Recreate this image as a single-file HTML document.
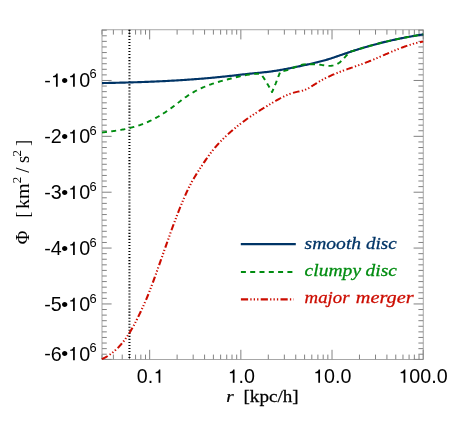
<!DOCTYPE html>
<html><head><meta charset="utf-8"><title>Potential profile</title>
<style>html,body{margin:0;padding:0;background:#fff;}svg{display:block;will-change:transform}</style></head>
<body>
<svg width="463" height="436" viewBox="0 0 463 436">
<rect width="463" height="436" fill="#fff"/>
<path d="M102.00 359.4 v-4.8 M102.00 29.8 v4.8 M113.39 359.4 v-4.8 M113.39 29.8 v4.8 M122.23 359.4 v-4.8 M122.23 29.8 v4.8 M129.45 359.4 v-4.8 M129.45 29.8 v4.8 M135.55 359.4 v-4.8 M135.55 29.8 v4.8 M140.84 359.4 v-4.8 M140.84 29.8 v4.8 M145.50 359.4 v-4.8 M145.50 29.8 v4.8 M149.67 359.4 v-9.6 M149.67 29.8 v9.6 M177.12 359.4 v-4.8 M177.12 29.8 v4.8 M193.18 359.4 v-4.8 M193.18 29.8 v4.8 M204.57 359.4 v-4.8 M204.57 29.8 v4.8 M213.40 359.4 v-4.8 M213.40 29.8 v4.8 M220.62 359.4 v-4.8 M220.62 29.8 v4.8 M226.73 359.4 v-4.8 M226.73 29.8 v4.8 M232.01 359.4 v-4.8 M232.01 29.8 v4.8 M236.68 359.4 v-4.8 M236.68 29.8 v4.8 M240.85 359.4 v-9.6 M240.85 29.8 v9.6 M268.30 359.4 v-4.8 M268.30 29.8 v4.8 M284.35 359.4 v-4.8 M284.35 29.8 v4.8 M295.74 359.4 v-4.8 M295.74 29.8 v4.8 M304.58 359.4 v-4.8 M304.58 29.8 v4.8 M311.80 359.4 v-4.8 M311.80 29.8 v4.8 M317.90 359.4 v-4.8 M317.90 29.8 v4.8 M323.19 359.4 v-4.8 M323.19 29.8 v4.8 M327.85 359.4 v-4.8 M327.85 29.8 v4.8 M332.02 359.4 v-9.6 M332.02 29.8 v9.6 M359.47 359.4 v-4.8 M359.47 29.8 v4.8 M375.53 359.4 v-4.8 M375.53 29.8 v4.8 M386.92 359.4 v-4.8 M386.92 29.8 v4.8 M395.75 359.4 v-4.8 M395.75 29.8 v4.8 M402.97 359.4 v-4.8 M402.97 29.8 v4.8 M409.08 359.4 v-4.8 M409.08 29.8 v4.8 M414.36 359.4 v-4.8 M414.36 29.8 v4.8 M419.03 359.4 v-4.8 M419.03 29.8 v4.8 M423.20 359.4 v-9.6 M423.20 29.8 v9.6 M102.0 359.40 h9.6 M423.2 359.40 h-9.6 M102.0 354.21 h4.8 M423.2 354.21 h-4.8 M102.0 348.63 h4.8 M423.2 348.63 h-4.8 M102.0 343.04 h4.8 M423.2 343.04 h-4.8 M102.0 337.45 h4.8 M423.2 337.45 h-4.8 M102.0 331.87 h4.8 M423.2 331.87 h-4.8 M102.0 326.28 h4.8 M423.2 326.28 h-4.8 M102.0 320.69 h4.8 M423.2 320.69 h-4.8 M102.0 315.11 h4.8 M423.2 315.11 h-4.8 M102.0 309.52 h4.8 M423.2 309.52 h-4.8 M102.0 303.94 h9.6 M423.2 303.94 h-9.6 M102.0 298.35 h4.8 M423.2 298.35 h-4.8 M102.0 292.76 h4.8 M423.2 292.76 h-4.8 M102.0 287.18 h4.8 M423.2 287.18 h-4.8 M102.0 281.59 h4.8 M423.2 281.59 h-4.8 M102.0 276.00 h4.8 M423.2 276.00 h-4.8 M102.0 270.42 h4.8 M423.2 270.42 h-4.8 M102.0 264.83 h4.8 M423.2 264.83 h-4.8 M102.0 259.24 h4.8 M423.2 259.24 h-4.8 M102.0 253.66 h4.8 M423.2 253.66 h-4.8 M102.0 248.07 h9.6 M423.2 248.07 h-9.6 M102.0 242.48 h4.8 M423.2 242.48 h-4.8 M102.0 236.90 h4.8 M423.2 236.90 h-4.8 M102.0 231.31 h4.8 M423.2 231.31 h-4.8 M102.0 225.73 h4.8 M423.2 225.73 h-4.8 M102.0 220.14 h4.8 M423.2 220.14 h-4.8 M102.0 214.55 h4.8 M423.2 214.55 h-4.8 M102.0 208.97 h4.8 M423.2 208.97 h-4.8 M102.0 203.38 h4.8 M423.2 203.38 h-4.8 M102.0 197.79 h4.8 M423.2 197.79 h-4.8 M102.0 192.21 h9.6 M423.2 192.21 h-9.6 M102.0 186.62 h4.8 M423.2 186.62 h-4.8 M102.0 181.03 h4.8 M423.2 181.03 h-4.8 M102.0 175.45 h4.8 M423.2 175.45 h-4.8 M102.0 169.86 h4.8 M423.2 169.86 h-4.8 M102.0 164.27 h4.8 M423.2 164.27 h-4.8 M102.0 158.69 h4.8 M423.2 158.69 h-4.8 M102.0 153.10 h4.8 M423.2 153.10 h-4.8 M102.0 147.52 h4.8 M423.2 147.52 h-4.8 M102.0 141.93 h4.8 M423.2 141.93 h-4.8 M102.0 136.34 h9.6 M423.2 136.34 h-9.6 M102.0 130.76 h4.8 M423.2 130.76 h-4.8 M102.0 125.17 h4.8 M423.2 125.17 h-4.8 M102.0 119.58 h4.8 M423.2 119.58 h-4.8 M102.0 114.00 h4.8 M423.2 114.00 h-4.8 M102.0 108.41 h4.8 M423.2 108.41 h-4.8 M102.0 102.82 h4.8 M423.2 102.82 h-4.8 M102.0 97.24 h4.8 M423.2 97.24 h-4.8 M102.0 91.65 h4.8 M423.2 91.65 h-4.8 M102.0 86.06 h4.8 M423.2 86.06 h-4.8 M102.0 80.48 h9.6 M423.2 80.48 h-9.6 M102.0 74.89 h4.8 M423.2 74.89 h-4.8 M102.0 69.31 h4.8 M423.2 69.31 h-4.8 M102.0 63.72 h4.8 M423.2 63.72 h-4.8 M102.0 58.13 h4.8 M423.2 58.13 h-4.8 M102.0 52.55 h4.8 M423.2 52.55 h-4.8 M102.0 46.96 h4.8 M423.2 46.96 h-4.8 M102.0 41.37 h4.8 M423.2 41.37 h-4.8 M102.0 35.79 h4.8 M423.2 35.79 h-4.8 M102.0 30.20 h4.8 M423.2 30.20 h-4.8" stroke="#747474" stroke-width="0.9" fill="none"/>
<rect x="102.0" y="29.8" width="321.2" height="329.59999999999997" fill="none" stroke="#8a8a8a" stroke-width="0.75"/>
<path d="M129.45 29.8 V359.4" stroke="#000" stroke-width="2.05" stroke-dasharray="1.08 1.95" fill="none"/>
<g transform="scale(1 0.93)"><path d="M101.90 386.19 L102.90 385.67 L103.90 385.12 L104.90 384.55 L105.90 383.95 L106.90 383.32 L107.90 382.66 L108.90 381.97 L109.90 381.24 L110.90 380.47 L111.90 379.67 L112.90 378.83 L113.90 377.95 L114.90 377.03 L115.90 376.06 L116.90 375.05 L117.90 374.00 L118.90 372.89 L119.90 371.74 L120.90 370.54 L121.90 369.28 L122.90 367.97 L123.90 366.61 L124.90 365.19 L125.90 363.71 L126.90 362.17 L127.90 360.58 L128.90 358.92 L129.90 357.19 L130.90 355.41 L131.90 353.56 L132.90 351.66 L133.90 349.70 L134.90 347.69 L135.90 345.62 L136.90 343.52 L137.90 341.36 L138.90 339.17 L139.90 336.93 L140.90 334.66 L141.90 332.35 L142.90 330.01 L143.90 327.64 L144.90 325.24 L145.90 322.78 L146.90 320.27 L147.90 317.67 L148.90 314.99 L149.90 312.24 L150.90 309.42 L151.90 306.56 L152.90 303.65 L153.90 300.71 L154.90 297.75 L155.90 294.76 L156.90 291.76 L157.90 288.75 L158.90 285.72 L159.90 282.68 L160.90 279.63 L161.90 276.58 L162.90 273.52 L163.90 270.46 L164.90 267.40 L165.90 264.35 L166.90 261.31 L167.90 258.27 L168.90 255.25 L169.90 252.24 L170.90 249.26 L171.90 246.29 L172.90 243.34 L173.90 240.43 L174.90 237.54 L175.90 234.68 L176.90 231.86 L177.90 229.07 L178.90 226.33 L179.90 223.62 L180.90 220.96 L181.90 218.35 L182.90 215.79 L183.90 213.29 L184.90 210.83 L185.90 208.44 L186.90 206.11 L187.90 203.84 L188.90 201.64 L189.90 199.51 L190.90 197.45 L191.90 195.47 L192.90 193.56 L193.90 191.70 L194.90 189.91 L195.90 188.16 L196.90 186.44 L197.90 184.76 L198.90 183.10 L199.90 181.45 L200.90 179.80 L201.90 178.15 L202.90 176.50 L203.90 174.86 L204.90 173.24 L205.90 171.63 L206.90 170.06 L207.90 168.53 L208.90 167.04 L209.90 165.59 L210.90 164.17 L211.90 162.79 L212.90 161.44 L213.90 160.12 L214.90 158.84 L215.90 157.58 L216.90 156.36 L217.90 155.16 L218.90 153.98 L219.90 152.83 L220.90 151.71 L221.90 150.61 L222.90 149.52 L223.90 148.46 L224.90 147.42 L225.90 146.39 L226.90 145.38 L227.90 144.38 L228.90 143.40 L229.90 142.44 L230.90 141.49 L231.90 140.55 L232.90 139.63 L233.90 138.72 L234.90 137.83 L235.90 136.94 L236.90 136.07 L237.90 135.22 L238.90 134.37 L239.90 133.54 L240.90 132.71 L241.90 131.90 L242.90 131.10 L243.90 130.31 L244.90 129.53 L245.90 128.76 L246.90 127.99 L247.90 127.24 L248.90 126.49 L249.90 125.75 L250.90 125.02 L251.90 124.30 L252.90 123.58 L253.90 122.88 L254.90 122.17 L255.90 121.47 L256.90 120.78 L257.90 120.10 L258.90 119.41 L259.90 118.74 L260.90 118.06 L261.90 117.39 L262.90 116.73 L263.90 116.06 L264.90 115.40 L265.90 114.74 L266.90 114.09 L267.90 113.43 L268.90 112.78 L269.90 112.13 L270.90 111.48 L271.90 110.83 L272.90 110.19 L273.90 109.56 L274.90 108.93 L275.90 108.31 L276.90 107.69 L277.90 107.09 L278.90 106.50 L279.90 105.92 L280.90 105.35 L281.90 104.80 L282.90 104.26 L283.90 103.73 L284.90 103.23 L285.90 102.74 L286.90 102.26 L287.90 101.81 L288.90 101.38 L289.90 100.97 L290.90 100.58 L291.90 100.22 L292.90 99.88 L293.90 99.56 L294.90 99.27 L295.90 99.01 L296.90 98.77 L297.90 98.56 L298.90 98.35 L299.90 98.13 L300.90 97.90 L301.90 97.64 L302.90 97.35 L303.90 97.01 L304.90 96.62 L305.90 96.18 L306.90 95.70 L307.90 95.17 L308.90 94.60 L309.90 93.99 L310.90 93.34 L311.90 92.67 L312.90 91.99 L313.90 91.29 L314.90 90.60 L315.90 89.91 L316.90 89.23 L317.90 88.58 L318.90 87.93 L319.90 87.31 L320.90 86.69 L321.90 86.10 L322.90 85.51 L323.90 84.94 L324.90 84.39 L325.90 83.84 L326.90 83.31 L327.90 82.79 L328.90 82.28 L329.90 81.78 L330.90 81.29 L331.90 80.81 L332.90 80.35 L333.90 79.89 L334.90 79.43 L335.90 78.99 L336.90 78.56 L337.90 78.13 L338.90 77.71 L339.90 77.29 L340.90 76.88 L341.90 76.48 L342.90 76.08 L343.90 75.69 L344.90 75.30 L345.90 74.91 L346.90 74.53 L347.90 74.15 L348.90 73.77 L349.90 73.40 L350.90 73.03 L351.90 72.65 L352.90 72.28 L353.90 71.91 L354.90 71.53 L355.90 71.16 L356.90 70.79 L357.90 70.41 L358.90 70.03 L359.90 69.65 L360.90 69.27 L361.90 68.88 L362.90 68.49 L363.90 68.09 L364.90 67.69 L365.90 67.28 L366.90 66.87 L367.90 66.45 L368.90 66.03 L369.90 65.60 L370.90 65.17 L371.90 64.73 L372.90 64.29 L373.90 63.84 L374.90 63.39 L375.90 62.93 L376.90 62.48 L377.90 62.02 L378.90 61.56 L379.90 61.09 L380.90 60.63 L381.90 60.16 L382.90 59.70 L383.90 59.23 L384.90 58.77 L385.90 58.30 L386.90 57.83 L387.90 57.37 L388.90 56.91 L389.90 56.45 L390.90 55.99 L391.90 55.53 L392.90 55.08 L393.90 54.63 L394.90 54.19 L395.90 53.75 L396.90 53.31 L397.90 52.88 L398.90 52.45 L399.90 52.03 L400.90 51.62 L401.90 51.21 L402.90 50.80 L403.90 50.41 L404.90 50.02 L405.90 49.64 L406.90 49.27 L407.90 48.91 L408.90 48.55 L409.90 48.21 L410.90 47.87 L411.90 47.55 L412.90 47.23 L413.90 46.93 L414.90 46.64 L415.90 46.35 L416.90 46.08 L417.90 45.83 L418.90 45.58 L419.90 45.35 L420.90 45.13 L421.90 44.93 L422.90 44.73 L423.20 44.68" stroke="#cc0c00" stroke-width="2.1" fill="none" stroke-dasharray="6.7 2.4 1.3 2.15 1.3 2.15 1.3 2.5"/></g>
<path d="M102.00 83.08 L103.00 83.06 L104.00 83.04 L105.00 83.02 L106.00 83.00 L107.00 82.98 L108.00 82.96 L109.00 82.94 L110.00 82.92 L111.00 82.89 L112.00 82.87 L113.00 82.85 L114.00 82.83 L115.00 82.81 L116.00 82.78 L117.00 82.76 L118.00 82.74 L119.00 82.71 L120.00 82.69 L121.00 82.66 L122.00 82.64 L123.00 82.61 L124.00 82.58 L125.00 82.56 L126.00 82.53 L127.00 82.50 L128.00 82.47 L129.00 82.45 L130.00 82.42 L131.00 82.39 L132.00 82.36 L133.00 82.33 L134.00 82.30 L135.00 82.27 L136.00 82.23 L137.00 82.20 L138.00 82.17 L139.00 82.14 L140.00 82.10 L141.00 82.07 L142.00 82.03 L143.00 82.00 L144.00 81.96 L145.00 81.92 L146.00 81.89 L147.00 81.85 L148.00 81.81 L149.00 81.77 L150.00 81.73 L151.00 81.69 L152.00 81.65 L153.00 81.61 L154.00 81.56 L155.00 81.52 L156.00 81.48 L157.00 81.43 L158.00 81.39 L159.00 81.34 L160.00 81.30 L161.00 81.25 L162.00 81.20 L163.00 81.15 L164.00 81.11 L165.00 81.06 L166.00 81.00 L167.00 80.95 L168.00 80.90 L169.00 80.85 L170.00 80.80 L171.00 80.74 L172.00 80.69 L173.00 80.63 L174.00 80.57 L175.00 80.52 L176.00 80.46 L177.00 80.40 L178.00 80.34 L179.00 80.28 L180.00 80.22 L181.00 80.15 L182.00 80.09 L183.00 80.03 L184.00 79.96 L185.00 79.90 L186.00 79.83 L187.00 79.76 L188.00 79.69 L189.00 79.62 L190.00 79.55 L191.00 79.48 L192.00 79.41 L193.00 79.34 L194.00 79.26 L195.00 79.19 L196.00 79.11 L197.00 79.04 L198.00 78.96 L199.00 78.88 L200.00 78.80 L201.00 78.72 L202.00 78.64 L203.00 78.56 L204.00 78.47 L205.00 78.39 L206.00 78.30 L207.00 78.22 L208.00 78.13 L209.00 78.04 L210.00 77.95 L211.00 77.86 L212.00 77.77 L213.00 77.67 L214.00 77.58 L215.00 77.48 L216.00 77.39 L217.00 77.29 L218.00 77.19 L219.00 77.09 L220.00 76.99 L221.00 76.89 L222.00 76.79 L223.00 76.68 L224.00 76.58 L225.00 76.47 L226.00 76.36 L227.00 76.26 L228.00 76.15 L229.00 76.03 L230.00 75.92 L231.00 75.81 L232.00 75.70 L233.00 75.58 L234.00 75.47 L235.00 75.35 L236.00 75.24 L237.00 75.12 L238.00 75.01 L239.00 74.89 L240.00 74.78 L241.00 74.67 L242.00 74.55 L243.00 74.44 L244.00 74.33 L245.00 74.22 L246.00 74.11 L247.00 74.00 L248.00 73.89 L249.00 73.78 L250.00 73.68 L251.00 73.58 L252.00 73.48 L253.00 73.38 L254.00 73.28 L255.00 73.18 L256.00 73.09 L257.00 72.99 L258.00 72.89 L259.00 72.80 L260.00 72.70 L261.00 72.60 L262.00 72.50 L263.00 72.40 L264.00 72.30 L265.00 72.19 L266.00 72.08 L267.00 71.96 L268.00 71.84 L269.00 71.72 L270.00 71.59 L271.00 71.46 L272.00 71.32 L273.00 71.18 L274.00 71.03 L275.00 70.88 L276.00 70.73 L277.00 70.57 L278.00 70.41 L279.00 70.24 L280.00 70.07 L281.00 69.90 L282.00 69.73 L283.00 69.55 L284.00 69.37 L285.00 69.18 L286.00 68.99 L287.00 68.80 L288.00 68.61 L289.00 68.42 L290.00 68.22 L291.00 68.02 L292.00 67.82 L293.00 67.62 L294.00 67.41 L295.00 67.20 L296.00 66.99 L297.00 66.78 L298.00 66.57 L299.00 66.36 L300.00 66.15 L301.00 65.93 L302.00 65.71 L303.00 65.50 L304.00 65.28 L305.00 65.06 L306.00 64.84 L307.00 64.62 L308.00 64.40 L309.00 64.18 L310.00 63.96 L311.00 63.73 L312.00 63.50 L313.00 63.27 L314.00 63.04 L315.00 62.81 L316.00 62.57 L317.00 62.33 L318.00 62.08 L319.00 61.83 L320.00 61.58 L321.00 61.32 L322.00 61.05 L323.00 60.78 L324.00 60.51 L325.00 60.23 L326.00 59.94 L327.00 59.65 L328.00 59.35 L329.00 59.05 L330.00 58.74 L331.00 58.42 L332.00 58.09 L333.00 57.75 L334.00 57.42 L335.00 57.07 L336.00 56.73 L337.00 56.38 L338.00 56.03 L339.00 55.68 L340.00 55.34 L341.00 54.99 L342.00 54.65 L343.00 54.30 L344.00 53.96 L345.00 53.62 L346.00 53.28 L347.00 52.95 L348.00 52.61 L349.00 52.28 L350.00 51.95 L351.00 51.62 L352.00 51.29 L353.00 50.97 L354.00 50.64 L355.00 50.32 L356.00 50.01 L357.00 49.69 L358.00 49.38 L359.00 49.07 L360.00 48.76 L361.00 48.45 L362.00 48.15 L363.00 47.85 L364.00 47.56 L365.00 47.26 L366.00 46.97 L367.00 46.68 L368.00 46.39 L369.00 46.11 L370.00 45.83 L371.00 45.55 L372.00 45.27 L373.00 45.00 L374.00 44.73 L375.00 44.46 L376.00 44.19 L377.00 43.93 L378.00 43.67 L379.00 43.41 L380.00 43.16 L381.00 42.90 L382.00 42.65 L383.00 42.40 L384.00 42.16 L385.00 41.92 L386.00 41.67 L387.00 41.44 L388.00 41.20 L389.00 40.97 L390.00 40.74 L391.00 40.51 L392.00 40.28 L393.00 40.06 L394.00 39.84 L395.00 39.62 L396.00 39.40 L397.00 39.19 L398.00 38.98 L399.00 38.77 L400.00 38.56 L401.00 38.36 L402.00 38.15 L403.00 37.95 L404.00 37.76 L405.00 37.56 L406.00 37.37 L407.00 37.18 L408.00 36.99 L409.00 36.80 L410.00 36.62 L411.00 36.44 L412.00 36.26 L413.00 36.08 L414.00 35.91 L415.00 35.74 L416.00 35.57 L417.00 35.40 L418.00 35.23 L419.00 35.07 L420.00 34.91 L421.00 34.75 L422.00 34.59 L423.00 34.44 L423.20 34.41" stroke="#003466" stroke-width="2.15" fill="none"/>
<g transform="scale(1 0.93)"><path d="M102.00 142.45 L103.00 142.33 L104.00 142.21 L105.00 142.09 L106.00 141.96 L107.00 141.83 L108.00 141.70 L109.00 141.57 L110.00 141.44 L111.00 141.30 L112.00 141.15 L113.00 141.01 L114.00 140.85 L115.00 140.70 L116.00 140.54 L117.00 140.37 L118.00 140.20 L119.00 140.02 L120.00 139.84 L121.00 139.65 L122.00 139.45 L123.00 139.25 L124.00 139.04 L125.00 138.82 L126.00 138.59 L127.00 138.36 L128.00 138.12 L129.00 137.87 L130.00 137.61 L131.00 137.34 L132.00 137.06 L133.00 136.77 L134.00 136.47 L135.00 136.16 L136.00 135.84 L137.00 135.51 L138.00 135.16 L139.00 134.81 L140.00 134.44 L141.00 134.06 L142.00 133.67 L143.00 133.27 L144.00 132.85 L145.00 132.42 L146.00 131.98 L147.00 131.52 L148.00 131.05 L149.00 130.56 L150.00 130.06 L151.00 129.54 L152.00 129.01 L153.00 128.47 L154.00 127.91 L155.00 127.33 L156.00 126.75 L157.00 126.15 L158.00 125.53 L159.00 124.91 L160.00 124.26 L161.00 123.61 L162.00 122.94 L163.00 122.26 L164.00 121.57 L165.00 120.86 L166.00 120.14 L167.00 119.41 L168.00 118.66 L169.00 117.91 L170.00 117.14 L171.00 116.36 L172.00 115.57 L173.00 114.76 L174.00 113.95 L175.00 113.12 L176.00 112.29 L177.00 111.46 L178.00 110.63 L179.00 109.80 L180.00 108.97 L181.00 108.14 L182.00 107.33 L183.00 106.52 L184.00 105.73 L185.00 104.95 L186.00 104.19 L187.00 103.45 L188.00 102.72 L189.00 102.02 L190.00 101.34 L191.00 100.67 L192.00 100.03 L193.00 99.40 L194.00 98.79 L195.00 98.19 L196.00 97.62 L197.00 97.06 L198.00 96.51 L199.00 95.99 L200.00 95.47 L201.00 94.97 L202.00 94.49 L203.00 94.01 L204.00 93.55 L205.00 93.11 L206.00 92.67 L207.00 92.25 L208.00 91.84 L209.00 91.44 L210.00 91.05 L211.00 90.67 L212.00 90.29 L213.00 89.93 L214.00 89.58 L215.00 89.23 L216.00 88.89 L217.00 88.56 L218.00 88.23 L219.00 87.91 L220.00 87.60 L221.00 87.29 L222.00 86.98 L223.00 86.68 L224.00 86.39 L225.00 86.09 L226.00 85.80 L227.00 85.52 L228.00 85.23 L229.00 84.95 L230.00 84.66 L231.00 84.39 L232.00 84.11 L233.00 83.84 L234.00 83.57 L235.00 83.31 L236.00 83.05 L237.00 82.79 L238.00 82.54 L239.00 82.30 L240.00 82.06 L241.00 81.82 L242.00 81.60 L243.00 81.38 L244.00 81.16 L245.00 80.96 L246.00 80.76 L247.00 80.57 L248.00 80.39 L249.00 80.21 L250.00 80.05 L251.00 79.89 L252.00 79.75 L253.00 79.61 L254.00 79.50 L255.00 79.40 L256.00 79.35 L257.00 79.33 L258.00 79.36 L259.00 79.45 L260.00 79.61 L261.00 79.84 L263.80 83.87 L268.30 91.83 L272.00 99.03 L275.70 89.78 L280.30 76.99 L281.30 76.79 L282.30 76.68 L283.30 76.51 L284.30 76.29 L285.30 76.02 L286.30 75.72 L287.30 75.38 L288.30 75.01 L289.30 74.61 L290.30 74.20 L291.30 73.77 L292.30 73.33 L293.30 72.89 L294.30 72.45 L295.30 72.02 L296.30 71.60 L297.30 71.19 L298.30 70.81 L299.30 70.45 L300.30 70.12 L301.30 69.83 L302.30 69.58 L303.30 69.38 L304.30 69.23 L305.30 69.13 L306.30 69.07 L307.30 69.04 L308.30 69.04 L309.30 69.04 L310.30 69.06 L311.30 69.07 L312.30 69.09 L313.30 69.10 L314.30 69.13 L315.30 69.16 L316.30 69.21 L317.30 69.28 L318.30 69.37 L319.30 69.48 L320.30 69.62 L321.30 69.79 L322.30 69.97 L323.30 70.15 L324.30 70.33 L325.30 70.49 L326.30 70.63 L327.30 70.74 L328.30 70.80 L329.30 70.82 L330.30 70.79 L331.30 70.70 L332.30 70.56 L333.30 70.34 L334.30 70.06 L335.30 69.70 L336.30 69.26 L337.30 68.73 L338.30 68.11 L339.30 67.39 L340.30 66.57 L341.30 65.64 L342.30 64.60 L343.30 63.46 L344.30 62.26 L345.30 61.03 L346.30 59.81 L347.30 58.64 L348.30 57.55 L349.30 56.59 L350.30 55.79 L351.25 55.22 L353.00 54.80 L354.00 54.46 L355.00 54.11 L356.00 53.77 L357.00 53.43 L358.00 53.09 L359.00 52.76 L360.00 52.43 L361.00 52.10 L362.00 51.78 L363.00 51.45 L364.00 51.13 L365.00 50.82 L366.00 50.50 L367.00 50.19 L368.00 49.89 L369.00 49.58 L370.00 49.28 L371.00 48.98 L372.00 48.68 L373.00 48.39 L374.00 48.10 L375.00 47.81 L376.00 47.52 L377.00 47.24 L378.00 46.96 L379.00 46.68 L380.00 46.40 L381.00 46.13 L382.00 45.86 L383.00 45.60 L384.00 45.33 L385.00 45.07 L386.00 44.81 L387.00 44.55 L388.00 44.30 L389.00 44.05 L390.00 43.80 L391.00 43.56 L392.00 43.31 L393.00 43.07 L394.00 42.84 L395.00 42.60 L396.00 42.37 L397.00 42.14 L398.00 41.91 L399.00 41.68 L400.00 41.46 L401.00 41.24 L402.00 41.02 L403.00 40.81 L404.00 40.60 L405.00 40.39 L406.00 40.18 L407.00 39.98 L408.00 39.77 L409.00 39.57 L410.00 39.38 L411.00 39.18 L412.00 38.99 L413.00 38.80 L414.00 38.61 L415.00 38.43 L416.00 38.24 L417.00 38.06 L418.00 37.89 L419.00 37.71 L420.00 37.54 L421.00 37.37 L422.00 37.20 L423.00 37.03 L423.20 37.00" stroke="#008c10" stroke-width="2.0" fill="none" stroke-dasharray="5 4.3" stroke-linejoin="round"/></g>
<path d="M240.8 244.1 H295.8" stroke="#003466" stroke-width="2.15"/>
<path d="M240.9 271.95 H292.6" stroke="#008c10" stroke-width="1.95" stroke-dasharray="5 4.3"/>
<path d="M240.9 299.35 H293.6" stroke="#cc0c00" stroke-width="2.05" stroke-dasharray="7.2 2.2 1.3 2.1 1.3 2.1 1.3 2.3"/>
<text transform="translate(304.6 248.7) scale(1.125 1)" font-family="Liberation Serif, serif" font-size="17.4" fill="#003466" text-anchor="start" font-style="italic" stroke="#003466" stroke-width="0.28">smooth</text>
<text transform="translate(365.9 248.7) scale(1.1 1)" font-family="Liberation Serif, serif" font-size="17.4" fill="#003466" text-anchor="start" font-style="italic" stroke="#003466" stroke-width="0.28">disc</text>
<text transform="translate(304.6 275.8) scale(1.125 1)" font-family="Liberation Serif, serif" font-size="17.4" fill="#008c10" text-anchor="start" font-style="italic" stroke="#008c10" stroke-width="0.28">clumpy</text>
<text transform="translate(365.6 275.8) scale(1.12 1)" font-family="Liberation Serif, serif" font-size="17.4" fill="#008c10" text-anchor="start" font-style="italic" stroke="#008c10" stroke-width="0.28">disc</text>
<text transform="translate(304.6 303.4) scale(1.08 1)" font-family="Liberation Serif, serif" font-size="17.4" fill="#cc0c00" text-anchor="start" font-style="italic" stroke="#cc0c00" stroke-width="0.28">major</text>
<text transform="translate(355.8 303.4) scale(1.165 1)" font-family="Liberation Serif, serif" font-size="17.4" fill="#cc0c00" text-anchor="start" font-style="italic" stroke="#cc0c00" stroke-width="0.28">merger</text>
<g transform="translate(45.3 86.68)">
<text transform="translate(-1.0 0) scale(1.055 1)" font-family="Liberation Sans, sans-serif" font-size="18.7" fill="#000" text-anchor="start" >-</text>
<path transform="translate(5.10 0.00) scale(0.009633 -0.009131)" d="M758 0H578V1038H275V1169C370 1169 455 1196 528 1270C584 1325 610 1393 621 1452H758Z" fill="#000"/>
<text transform="translate(15.9 0) scale(1.055 1)" font-family="Liberation Sans, sans-serif" font-size="18.7" fill="#000" text-anchor="start" >•</text>
<path transform="translate(22.20 0.00) scale(0.009633 -0.009131)" d="M758 0H578V1038H275V1169C370 1169 455 1196 528 1270C584 1325 610 1393 621 1452H758Z" fill="#000"/>
<text transform="translate(34.0 0.2) scale(1.055 1.07)" font-family="Liberation Sans, sans-serif" font-size="18.7" fill="#000" text-anchor="start" >0</text>
<text transform="translate(44.2 -8.3) scale(1.02335 1)" font-family="Liberation Sans, sans-serif" font-size="12.6" fill="#000" text-anchor="start" >6</text>
</g>
<g transform="translate(45.3 143.04)">
<text transform="translate(-1.0 0) scale(1.055 1)" font-family="Liberation Sans, sans-serif" font-size="18.7" fill="#000" text-anchor="start" >-</text>
<text transform="translate(5.5 0.2) scale(1.055 1.07)" font-family="Liberation Sans, sans-serif" font-size="18.7" fill="#000" text-anchor="start" >2</text>
<text transform="translate(15.9 0) scale(1.055 1)" font-family="Liberation Sans, sans-serif" font-size="18.7" fill="#000" text-anchor="start" >•</text>
<path transform="translate(22.20 0.00) scale(0.009633 -0.009131)" d="M758 0H578V1038H275V1169C370 1169 455 1196 528 1270C584 1325 610 1393 621 1452H758Z" fill="#000"/>
<text transform="translate(34.0 0.2) scale(1.055 1.07)" font-family="Liberation Sans, sans-serif" font-size="18.7" fill="#000" text-anchor="start" >0</text>
<text transform="translate(44.2 -8.3) scale(1.02335 1)" font-family="Liberation Sans, sans-serif" font-size="12.6" fill="#000" text-anchor="start" >6</text>
</g>
<g transform="translate(45.3 199.06)">
<text transform="translate(-1.0 0) scale(1.055 1)" font-family="Liberation Sans, sans-serif" font-size="18.7" fill="#000" text-anchor="start" >-</text>
<text transform="translate(5.5 0.2) scale(1.055 1.07)" font-family="Liberation Sans, sans-serif" font-size="18.7" fill="#000" text-anchor="start" >3</text>
<text transform="translate(15.9 0) scale(1.055 1)" font-family="Liberation Sans, sans-serif" font-size="18.7" fill="#000" text-anchor="start" >•</text>
<path transform="translate(22.20 0.00) scale(0.009633 -0.009131)" d="M758 0H578V1038H275V1169C370 1169 455 1196 528 1270C584 1325 610 1393 621 1452H758Z" fill="#000"/>
<text transform="translate(34.0 0.2) scale(1.055 1.07)" font-family="Liberation Sans, sans-serif" font-size="18.7" fill="#000" text-anchor="start" >0</text>
<text transform="translate(44.2 -8.3) scale(1.02335 1)" font-family="Liberation Sans, sans-serif" font-size="12.6" fill="#000" text-anchor="start" >6</text>
</g>
<g transform="translate(45.3 255.07)">
<text transform="translate(-1.0 0) scale(1.055 1)" font-family="Liberation Sans, sans-serif" font-size="18.7" fill="#000" text-anchor="start" >-</text>
<text transform="translate(5.5 0.2) scale(1.055 1.07)" font-family="Liberation Sans, sans-serif" font-size="18.7" fill="#000" text-anchor="start" >4</text>
<text transform="translate(15.9 0) scale(1.055 1)" font-family="Liberation Sans, sans-serif" font-size="18.7" fill="#000" text-anchor="start" >•</text>
<path transform="translate(22.20 0.00) scale(0.009633 -0.009131)" d="M758 0H578V1038H275V1169C370 1169 455 1196 528 1270C584 1325 610 1393 621 1452H758Z" fill="#000"/>
<text transform="translate(34.0 0.2) scale(1.055 1.07)" font-family="Liberation Sans, sans-serif" font-size="18.7" fill="#000" text-anchor="start" >0</text>
<text transform="translate(44.2 -8.3) scale(1.02335 1)" font-family="Liberation Sans, sans-serif" font-size="12.6" fill="#000" text-anchor="start" >6</text>
</g>
<g transform="translate(45.3 311.09)">
<text transform="translate(-1.0 0) scale(1.055 1)" font-family="Liberation Sans, sans-serif" font-size="18.7" fill="#000" text-anchor="start" >-</text>
<text transform="translate(5.5 0.2) scale(1.055 1.07)" font-family="Liberation Sans, sans-serif" font-size="18.7" fill="#000" text-anchor="start" >5</text>
<text transform="translate(15.9 0) scale(1.055 1)" font-family="Liberation Sans, sans-serif" font-size="18.7" fill="#000" text-anchor="start" >•</text>
<path transform="translate(22.20 0.00) scale(0.009633 -0.009131)" d="M758 0H578V1038H275V1169C370 1169 455 1196 528 1270C584 1325 610 1393 621 1452H758Z" fill="#000"/>
<text transform="translate(34.0 0.2) scale(1.055 1.07)" font-family="Liberation Sans, sans-serif" font-size="18.7" fill="#000" text-anchor="start" >0</text>
<text transform="translate(44.2 -8.3) scale(1.02335 1)" font-family="Liberation Sans, sans-serif" font-size="12.6" fill="#000" text-anchor="start" >6</text>
</g>
<g transform="translate(45.3 360.30)">
<text transform="translate(-1.0 0) scale(1.055 1)" font-family="Liberation Sans, sans-serif" font-size="18.7" fill="#000" text-anchor="start" >-</text>
<text transform="translate(5.5 0.2) scale(1.055 1.07)" font-family="Liberation Sans, sans-serif" font-size="18.7" fill="#000" text-anchor="start" >6</text>
<text transform="translate(15.9 0) scale(1.055 1)" font-family="Liberation Sans, sans-serif" font-size="18.7" fill="#000" text-anchor="start" >•</text>
<path transform="translate(22.20 0.00) scale(0.009633 -0.009131)" d="M758 0H578V1038H275V1169C370 1169 455 1196 528 1270C584 1325 610 1393 621 1452H758Z" fill="#000"/>
<text transform="translate(34.0 0.2) scale(1.055 1.07)" font-family="Liberation Sans, sans-serif" font-size="18.7" fill="#000" text-anchor="start" >0</text>
<text transform="translate(44.2 -8.3) scale(1.02335 1)" font-family="Liberation Sans, sans-serif" font-size="12.6" fill="#000" text-anchor="start" >6</text>
</g>
<text transform="translate(136.86 382.9) scale(1.055 1.07)" font-family="Liberation Sans, sans-serif" font-size="18.7" fill="#000" text-anchor="start" >0.</text>
<path transform="translate(153.02 382.70) scale(0.009633 -0.009131)" d="M758 0H578V1038H275V1169C370 1169 455 1196 528 1270C584 1325 610 1393 621 1452H758Z" fill="#000"/>
<path transform="translate(227.24 382.70) scale(0.009633 -0.009131)" d="M758 0H578V1038H275V1169C370 1169 455 1196 528 1270C584 1325 610 1393 621 1452H758Z" fill="#000"/>
<text transform="translate(238.51 382.9) scale(1.055 1.07)" font-family="Liberation Sans, sans-serif" font-size="18.7" fill="#000" text-anchor="start" >.0</text>
<path transform="translate(312.73 382.70) scale(0.009633 -0.009131)" d="M758 0H578V1038H275V1169C370 1169 455 1196 528 1270C584 1325 610 1393 621 1452H758Z" fill="#000"/>
<text transform="translate(324.0 382.9) scale(1.055 1.07)" font-family="Liberation Sans, sans-serif" font-size="18.7" fill="#000" text-anchor="start" >0.0</text>
<path transform="translate(398.02 382.70) scale(0.009633 -0.009131)" d="M758 0H578V1038H275V1169C370 1169 455 1196 528 1270C584 1325 610 1393 621 1452H758Z" fill="#000"/>
<text transform="translate(409.29 382.9) scale(1.055 1.07)" font-family="Liberation Sans, sans-serif" font-size="18.7" fill="#000" text-anchor="start" >00.0</text>
<text transform="translate(226.3 402.4) scale(1.11 1)" font-family="Liberation Serif, serif" font-size="17.3" fill="#000" text-anchor="start" font-style="italic" stroke="#000" stroke-width="0.25">r</text>
<text transform="translate(243.5 402.4) scale(1.105 1)" font-family="Liberation Serif, serif" font-size="17.3" fill="#000" text-anchor="start" stroke="#000" stroke-width="0.25">[kpc/h]</text>
<g transform="translate(28.9 244.3) rotate(-90)">
<text transform="translate(0.0 0) scale(1.0 1)" font-family="Liberation Serif, serif" font-size="18.7" fill="#000" text-anchor="start" >Φ</text>
<text transform="translate(26.6 0) scale(1.0 1)" font-family="Liberation Serif, serif" font-size="18.7" fill="#000" text-anchor="start" >[</text>
<text transform="translate(35.3 0) scale(1.08 1)" font-family="Liberation Serif, serif" font-size="18.7" fill="#000" text-anchor="start" >km</text>
<text transform="translate(61.1 -7.7) scale(1.0 1)" font-family="Liberation Serif, serif" font-size="13.0" fill="#000" text-anchor="start" >2</text>
<text transform="translate(71.5 0) scale(1.0 1)" font-family="Liberation Serif, serif" font-size="18.7" fill="#000" text-anchor="start" >/</text>
<text transform="translate(81.25 0) scale(1.0 1)" font-family="Liberation Serif, serif" font-size="18.7" fill="#000" text-anchor="start" >s</text>
<text transform="translate(87.9 -7.7) scale(1.0 1)" font-family="Liberation Serif, serif" font-size="13.0" fill="#000" text-anchor="start" >2</text>
<text transform="translate(98.3 0) scale(1.0 1)" font-family="Liberation Serif, serif" font-size="18.7" fill="#000" text-anchor="start" >]</text>
</g>
</svg>
</body></html>
